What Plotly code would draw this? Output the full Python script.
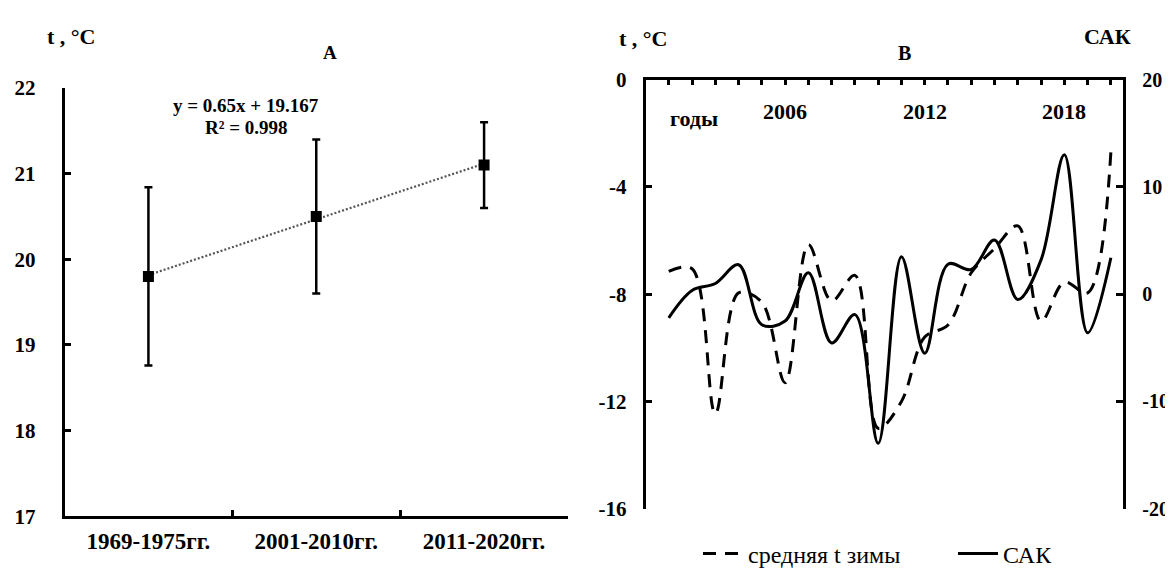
import numpy as np
import plotly.graph_objects as go

# ---------------- data ----------------
periods = ["1969-1975гг.", "2001-2010гг.", "2011-2020гг."]
summer_t = [19.8, 20.5, 21.1]
summer_err = [1.04, 0.9, 0.5]

years = list(range(2001, 2021))
winter_t = [-7.15, -7.05, -12.45, -7.95, -8.3, -11.3, -6.15, -8.25, -7.3, -13.0,
            -12.0, -9.6, -9.15, -7.2, -6.3, -5.45, -9.0, -7.55, -7.95, -2.7]
sak = [-2.2, 0.35, 1.0, 2.75, -2.85, -2.5, 2.0, -4.55, -1.9, -13.9,
       3.5, -5.5, 2.8, 2.3, 5.05, -0.5, 3.2, 13.0, -3.6, 3.4]
year_labels = [2006, 2012, 2018]
a_ticks = [17, 18, 19, 20, 21, 22]
t_ticks = [0, -4, -8, -12, -16]
sak_ticks = [20, 10, 0, -10, -20]

# linear trend on period index 1..3
idx = np.arange(1, len(summer_t) + 1)
slope, intercept = np.polyfit(idx, summer_t, 1)
trend = slope * idx + intercept
yv = np.array(summer_t)
r2 = 1 - np.sum((yv - trend) ** 2) / np.sum((yv - yv.mean()) ** 2)

W, H = 1173, 568
FONT = "Liberation Serif"

fig = go.Figure()

# ---------------- panel A ----------------
fig.add_trace(go.Scatter(
    x=periods, y=trend, mode="lines",
    line=dict(color="#555555", width=2.2, dash="2px,2px"),
    showlegend=False, xaxis="x", yaxis="y", hoverinfo="skip"))
fig.add_trace(go.Scatter(
    x=periods, y=summer_t, mode="markers",
    marker=dict(symbol="square", size=11, color="black"),
    error_y=dict(type="data", array=summer_err, visible=True,
                 color="black", thickness=2.5, width=4),
    showlegend=False, xaxis="x", yaxis="y"))

# ---------------- panel B ----------------
fig.add_trace(go.Scatter(
    x=years, y=winter_t, mode="lines", name="средняя t зимы",
    line=dict(color="black", width=3, dash="13px,9px", shape="spline", smoothing=1.0),
    xaxis="x2", yaxis="y2"))
fig.add_trace(go.Scatter(
    x=years, y=sak, mode="lines", name="САК",
    line=dict(color="black", width=3, shape="spline", smoothing=1.0),
    xaxis="x2", yaxis="y3"))


def px_x(p):
    return p / W


def px_y(p):
    return 1 - p / H


tickfont = dict(family=FONT, size=21, color="black", weight="bold")
axis_common = dict(showline=True, linecolor="black", linewidth=2.5,
                   ticks="inside", ticklen=7, tickwidth=2.5, tickcolor="black",
                   showgrid=False, zeroline=False)

fig.update_layout(
    width=W, height=H,
    margin=dict(l=0, r=0, t=0, b=0, autoexpand=False),
    paper_bgcolor="white", plot_bgcolor="white",
    font=dict(family=FONT, color="black"),
    xaxis=dict(domain=[px_x(56.5), px_x(560)], anchor="y",
               type="category", range=[-0.5, 2.5], tickson="boundaries",
               tickfont=dict(family=FONT, size=23, color="black", weight="bold"),
               ticklabelstandoff=2, **axis_common),
    yaxis=dict(domain=[px_y(508.3), px_y(80)], anchor="x",
               range=[17, 22], tickmode="array", tickvals=a_ticks,
               ticktext=[str(v) for v in a_ticks],
               tickfont=tickfont, ticklabelstandoff=22, **axis_common),
    xaxis2=dict(domain=[px_x(637.5), px_x(1114.5)], anchor="y2", side="top",
                range=[2000, 2020.5],
                tickmode="array", tickvals=years, showticklabels=False,
                **{**axis_common, "ticklen": 6}),
    yaxis2=dict(domain=[px_y(500.7), px_y(71.7)], anchor="x2",
                range=[-16, 0], tickmode="array", tickvals=t_ticks,
                ticktext=[str(v) for v in t_ticks],
                tickfont=tickfont, ticklabelstandoff=12, **axis_common),
    yaxis3=dict(overlaying="y2", anchor="x2", side="right",
                range=[-20, 20], tickmode="array", tickvals=sak_ticks,
                ticktext=[str(v) for v in sak_ticks],
                tickfont=dict(family=FONT, size=20, color="black", weight="bold"),
                ticklabelstandoff=13, **axis_common),
    legend=dict(orientation="h", x=px_x(690), xanchor="left",
                y=px_y(546), yanchor="middle",
                font=dict(family=FONT, size=24, color="black"),
                bgcolor="rgba(0,0,0,0)", entrywidth=200, entrywidthmode="pixels",
                itemwidth=40),
)

ann = []
bold = dict(family=FONT, size=22, color="black")
ann.append(dict(text="<b>t , °C</b>", x=px_x(63), y=px_y(28), xref="paper", yref="paper",
                showarrow=False, font=bold, xanchor="center", yanchor="middle"))
ann.append(dict(text="<b>А</b>", x=px_x(322), y=px_y(44), xref="paper", yref="paper",
                showarrow=False, font=dict(family=FONT, size=19, color="black"),
                xanchor="center", yanchor="middle"))
ann.append(dict(text=f"<b>y = {slope:.2f}x + {intercept:.3f}</b>", x=px_x(238), y=px_y(97),
                xref="paper", yref="paper", showarrow=False,
                font=dict(family=FONT, size=19, color="black"), xanchor="center", yanchor="middle"))
ann.append(dict(text=f"<b>R² = {r2:.3f}</b>", x=px_x(238), y=px_y(119),
                xref="paper", yref="paper", showarrow=False,
                font=dict(family=FONT, size=19, color="black"), xanchor="center", yanchor="middle"))
ann.append(dict(text="<b>t , °C</b>", x=px_x(635), y=px_y(30), xref="paper", yref="paper",
                showarrow=False, font=bold, xanchor="center", yanchor="middle"))
ann.append(dict(text="<b>В</b>", x=px_x(896), y=px_y(45), xref="paper", yref="paper",
                showarrow=False, font=dict(family=FONT, size=20, color="black"),
                xanchor="center", yanchor="middle"))
ann.append(dict(text="<b>САК</b>", x=px_x(1099), y=px_y(29), xref="paper", yref="paper",
                showarrow=False, font=bold, xanchor="center", yanchor="middle"))
ann.append(dict(text="<b>годы</b>", x=2002.1, y=-1.45, xref="x2", yref="y2",
                showarrow=False, font=bold, xanchor="center", yanchor="middle"))
for yl in year_labels:
    ann.append(dict(text=f"<b>{yl}</b>", x=yl, y=-1.2, xref="x2", yref="y2",
                    showarrow=False, font=bold, xanchor="center", yanchor="middle"))
fig.update_layout(annotations=ann)

fig.write_html("out.html")
